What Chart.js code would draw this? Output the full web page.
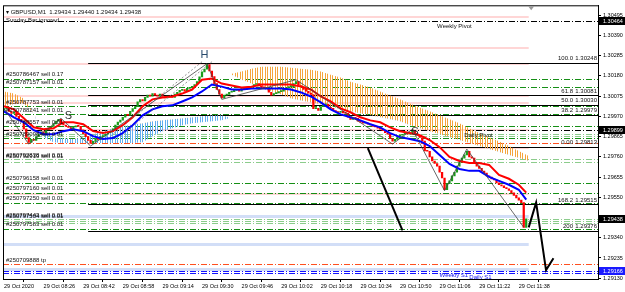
<!DOCTYPE html>
<html>
<head>
<meta charset="utf-8">
<script src="https://cdn.jsdelivr.net/npm/chart.js@4.4.0/dist/chart.umd.min.js"></script>
<style>
  html, body { margin: 0; padding: 0; background: #fff; }
  canvas { display: block; }
</style>
</head>
<body>
<canvas id="chart" width="625" height="292"></canvas>
<script>
// GBPUSD M1, 29 Oct 2020, one close per minute bar from 08:10
const tickBars = [0, 16, 32, 48, 64, 80, 96, 112, 128, 144, 160, 176, 192, 208];
const timeLabels = ['29 Oct 2020', '29 Oct 08:26', '29 Oct 08:42', '29 Oct 08:58', '29 Oct 09:14', '29 Oct 09:30',
  '29 Oct 09:46', '29 Oct 10:02', '29 Oct 10:18', '29 Oct 10:34', '29 Oct 10:50', '29 Oct 11:06', '29 Oct 11:22', '29 Oct 11:38'];
const priceTicks = [1.30495, 1.30390, 1.30285, 1.30180, 1.30075, 1.29970, 1.29865, 1.29760,
  1.29655, 1.29550, 1.29445, 1.29340, 1.29235, 1.29130];

const firstOpen = 1.30000;
const closes = [
  1.30010,1.30015,1.29995,1.29985,1.29990,1.29970,1.29955,1.29944,1.29905,1.29860,
  1.29835,1.29850,1.29845,1.29865,1.29875,1.29890,1.29880,1.29900,1.29910,1.29918,
  1.29930,1.29945,1.29955,1.29935,1.29925,1.29918,1.29912,1.29905,1.29915,1.29920,
  1.29918,1.29900,1.29880,1.29865,1.29845,1.29830,1.29840,1.29855,1.29850,1.29865,
  1.29870,1.29877,1.29885,1.29892,1.29905,1.29925,1.29940,1.29950,1.29965,1.29980,
  1.29975,1.29996,1.30010,1.30021,1.30045,1.30057,1.30050,1.30068,1.30080,1.30075,
  1.30088,1.30080,1.30075,1.30085,1.30073,1.30065,1.30075,1.30070,1.30068,1.30085,
  1.30095,1.30105,1.30109,1.30100,1.30115,1.30120,1.30124,1.30135,1.30150,1.30175,
  1.30201,1.30215,1.30238,1.30205,1.30176,1.30140,1.30109,1.30085,1.30065,1.30080,
  1.30083,1.30095,1.30098,1.30105,1.30109,1.30100,1.30119,1.30110,1.30114,1.30120,
  1.30125,1.30135,1.30140,1.30128,1.30120,1.30118,1.30114,1.30095,1.30080,1.30088,
  1.30092,1.30098,1.30100,1.30110,1.30118,1.30124,1.30124,1.30140,1.30150,1.30130,
  1.30124,1.30110,1.30100,1.30090,1.30083,1.30010,1.30011,1.30000,1.30021,1.30030,
  1.30032,1.30015,1.30011,1.30000,1.29995,1.29990,1.29996,1.29988,1.29985,1.29965,
  1.29954,1.29960,1.29959,1.29945,1.29940,1.29934,1.29935,1.29929,1.29925,1.29918,
  1.29915,1.29908,1.29903,1.29895,1.29885,1.29877,1.29855,1.29841,1.29850,1.29867,
  1.29872,1.29877,1.29880,1.29877,1.29885,1.29892,1.29880,1.29872,1.29860,1.29841,
  1.29790,1.29789,1.29760,1.29738,1.29725,1.29712,1.29680,1.29650,1.29590,1.29620,
  1.29635,1.29661,1.29680,1.29712,1.29730,1.29753,1.29770,1.29789,1.29760,1.29753,
  1.29725,1.29712,1.29700,1.29686,1.29675,1.29661,1.29655,1.29645,1.29640,1.29625,
  1.29615,1.29609,1.29600,1.29594,1.29585,1.29573,1.29560,1.29547,1.29535,1.29522,
  1.29393,1.29438
];

// moving averages, read every 4th bar
const maBars = [0,4,8,12,16,20,24,28,32,36,40,44,48,52,56,60,64,68,72,76,80,84,88,92,96,100,
  104,108,112,116,120,124,128,132,136,140,144,148,152,156,160,164,168,172,176,180,184,188,192,196,200,204,208,211];
const redMA = [1.30022,1.30006,1.29960,1.29913,1.29903,1.29908,1.29939,1.29939,1.29929,1.29893,1.29883,1.29893,
  1.29924,1.29965,1.30022,1.30058,1.30068,1.30073,1.30088,1.30109,1.30160,1.30166,1.30140,1.30130,1.30119,1.30124,
  1.30135,1.30135,1.30135,1.30135,1.30124,1.30109,1.30073,1.30047,1.30011,1.29991,1.29965,1.29949,1.29939,1.29913,
  1.29893,1.29883,1.29872,1.29847,1.29810,1.29759,1.29738,1.29728,1.29728,1.29718,1.29666,1.29646,1.29615,1.29574];
const blueMA = [1.29996,1.29965,1.29939,1.29898,1.29877,1.29877,1.29893,1.29903,1.29893,1.29867,1.29852,1.29857,
  1.29883,1.29924,1.29975,1.30006,1.30022,1.30027,1.30047,1.30068,1.30099,1.30135,1.30124,1.30109,1.30109,1.30114,
  1.30114,1.30114,1.30114,1.30109,1.30094,1.30073,1.30042,1.30006,1.29980,1.29965,1.29949,1.29929,1.29913,1.29883,
  1.29862,1.29852,1.29841,1.29816,1.29769,1.29723,1.29697,1.29687,1.29687,1.29656,1.29635,1.29615,1.29589,1.29538];

// cloud spans
const cloudBars = [0,4,8,12,16,20,24,28,32,36,40,44,48,52,56,60,64,68,72,76,80,84,88,91,92,96,100,104,108,112,
  116,120,124,128,132,136,140,144,148,152,156,160,164,168,172,176,180,184,188,192,196,200,204,208,212];
const spanA = [1.30099,1.30088,1.30063,1.29985,1.29862,1.29836,1.29831,1.29831,1.29831,1.29831,1.29831,1.29831,
  1.29831,1.29831,1.29836,1.29867,1.29893,1.29908,1.29924,1.29934,1.29939,1.29944,1.29949,1.29960,1.30191,1.30202,
  1.30217,1.30227,1.30227,1.30227,1.30222,1.30217,1.30212,1.30202,1.30186,1.30171,1.30150,1.30135,1.30119,1.30099,
  1.30078,1.30058,1.30037,1.30016,1.29996,1.29975,1.29955,1.29934,1.29908,1.29883,1.29862,1.29841,1.29816,1.29790,1.29764];
const spanB = [1.30022,1.30032,1.30037,1.29985,1.29883,1.29862,1.29857,1.29852,1.29862,1.29877,1.29893,1.29908,
  1.29919,1.29929,1.29934,1.29944,1.29949,1.29955,1.29960,1.29965,1.29970,1.29975,1.29975,1.29965,1.30186,1.30160,
  1.30140,1.30114,1.30099,1.30083,1.30063,1.30052,1.30042,1.30032,1.30022,1.30006,1.29996,1.29985,1.29975,1.29965,
  1.29955,1.29944,1.29924,1.29908,1.29893,1.29877,1.29862,1.29847,1.29831,1.29816,1.29800,1.29785,1.29769,1.29754,1.29738];

// zigzag swings and drawn lines
const zzBars = [0, 10, 23, 35, 82, 88, 118, 157, 165, 178, 187, 210];
const zzPrices = [1.30011, 1.29826, 1.29960, 1.29816, 1.30243, 1.30058, 1.30160, 1.29826, 1.29903, 1.29584, 1.29800, 1.29394];
const chanBars1 = [43, 80], chanPrices1 = [1.29867, 1.30253];
const chanBars2 = [47, 84], chanPrices2 = [1.29867, 1.30253];
const arrow1Bars = [147, 161], arrow1Prices = [1.29805, 1.29378];
const arrow2Bars = [212, 215, 219, 222], arrow2Prices = [1.29394, 1.29522, 1.29172, 1.29234];

// horizontal levels
const pivotLevels = [1.30464, 1.29899];
const pivotNames = ['Weekly Pivot', 'Daily Pivot'];
const pivotTextBars = [175, 186];
const s1Levels = [1.29166, 1.29157];
const s1Names = ['Weekly S1', 'Daily S1'];
const s1TextBars = [176, 188];
const fibStartBar = 34;
const fibLevels = [1.30248, 1.30081, 1.30030, 1.29979, 1.29813, 1.29515, 1.29376];
const fibNames = ['100.0', '61.8', '50.0', '38.2', '0.00', '168.2', '200'];
const orderLevels = [1.30166, 1.30124, 1.30022, 1.29980, 1.29919, 1.29857, 1.29625, 1.29574, 1.29522, 1.29388];
const groupLevels = [1.29877, 1.29867, 1.29749, 1.29733, 1.29438, 1.29429, 1.29419];
const tpLevels = [1.29831, 1.29203];
const resistZones = [1.30485, 1.30325, 1.30243, 1.30073, 1.30037, 1.29898, 1.29805, 1.29569];
const supportZones = [1.29455, 1.29306, 1.29177];
const orderTexts = ['#250786467 sell 0.17', '#250787157 sell 0.01', '#250787753 sell 0.01', '#250788241 sell 0.01',
  '#250788557 sell 0.01', '#250789098 sell 0.01', '#250792838 sell 0.01', '#250792919 sell 0.01', '#250796158 sell 0.01',
  '#250797160 sell 0.01', '#250797250 sell 0.01', '#250797443 sell 0.01', '#250797504 sell 0.01', '#250797583 sell 0.01',
  '#250709888 tp'];
const orderTextPrices = [1.30166, 1.30124, 1.30022, 1.29980, 1.29919, 1.29857, 1.29749, 1.29741, 1.29625,
  1.29574, 1.29522, 1.29438, 1.29429, 1.29388, 1.29203];
const markTexts = ['H', 'S', 'S'];
const markBars = [81, 26, 166];
const markPrices = [1.30289, 1.29970, 1.29888];
const boxPrices = [1.30464, 1.29899, 1.29438];
const bluePrice = 1.29166;
const quote = 'GBPUSD,M1  1.29434 1.29440 1.29434 1.29438';

const FONT = '"Liberation Sans", Arial, sans-serif';
const DASHDOT = [6, 2, 1, 2];

const opens = [firstOpen].concat(closes.slice(0, -1));
const candleData = closes.map((c, i) => ({ x: i, y: [opens[i], c] }));
const candleColors = closes.map((c, i) => c >= opens[i] ? '#1a9c1a' : '#ff0000');
const pts = (bars, vals) => bars.map((b, i) => ({ x: b, y: vals[i] }));

function hatch(color) {
  const c = document.createElement('canvas');
  c.width = 5; c.height = 1;
  const g = c.getContext('2d');
  g.fillStyle = color;
  g.fillRect(0, 0, 1, 1);
  g.fillRect(2, 0, 1, 1);
  return g.createPattern(c, 'repeat');
}

const levelsPlugin = {
  id: 'levels',
  beforeDatasetsDraw(chart) {
    const { ctx, chartArea: a, scales: { x, y } } = chart;
    const zoneEnd = x.getPixelForValue(closes.length);
    ctx.save();
    ctx.beginPath(); ctx.rect(a.left, a.top, a.width, a.height); ctx.clip();
    const draw = (levels, color, width, dash, x0, x1) => levels.forEach(p => {
      const py = Math.round(y.getPixelForValue(p)) + (width % 2 ? 0.5 : 0);
      ctx.strokeStyle = color; ctx.lineWidth = width; ctx.setLineDash(dash);
      ctx.beginPath(); ctx.moveTo(x0, py); ctx.lineTo(x1, py); ctx.stroke();
    });
    draw(resistZones, '#ffd6d6', 2, [], a.left, zoneEnd);
    draw(supportZones, '#d2def7', 3, [], a.left, zoneEnd);
    draw(groupLevels, '#8ccc8c', 1, DASHDOT, a.left, a.right);
    draw(orderLevels, '#168f16', 1, DASHDOT, a.left, a.right);
    draw(tpLevels, '#ff4f1f', 1, DASHDOT, a.left, a.right);
    draw(s1Levels, '#1414ff', 1, DASHDOT, a.left, a.right);
    draw(pivotLevels, '#000', 1, DASHDOT, a.left, a.right);
    draw(fibLevels, '#000', 1, [], x.getPixelForValue(fibStartBar), a.right);
    ctx.restore();
  },
  afterDatasetsDraw(chart) {
    const { ctx, chartArea: a, scales: { x, y } } = chart;
    ctx.save();
    ctx.textBaseline = 'bottom';
    ctx.fillStyle = '#111';
    ctx.font = '6px ' + FONT;
    orderTexts.forEach((t, i) => ctx.fillText(t, a.left + 3, y.getPixelForValue(orderTextPrices[i]) - 1));
    fibLevels.forEach((p, i) => {
      const py = y.getPixelForValue(p) - 1;
      ctx.textAlign = 'right';
      ctx.fillText(fibNames[i], a.right - 25, py);
      ctx.fillText(p.toFixed(5), a.right - 1, py);
    });
    ctx.textAlign = 'left';
    ctx.textBaseline = 'top';
    pivotLevels.forEach((p, i) => ctx.fillText(pivotNames[i], x.getPixelForValue(pivotTextBars[i]), y.getPixelForValue(p) + 2));
    ctx.fillStyle = '#1010ee';
    s1Levels.forEach((p, i) => ctx.fillText(s1Names[i], x.getPixelForValue(s1TextBars[i]), y.getPixelForValue(p) + 1));
    ctx.textAlign = 'center';
    ctx.textBaseline = 'middle';
    ctx.font = '11px ' + FONT;
    markTexts.forEach((t, i) => {
      ctx.fillStyle = t === 'H' ? '#27496b' : '#333';
      ctx.fillText(t, x.getPixelForValue(markBars[i]), y.getPixelForValue(markPrices[i]));
    });
    ctx.textAlign = 'left';
    ctx.fillStyle = '#111';
    ctx.font = '6px ' + FONT;
    ctx.fillText('\u25BE ' + quote, a.left + 3, a.top + 7);
    ctx.fillText('Sunday Bar ignored', a.left + 3, a.top + 15);
    ctx.restore();
  },
  afterDraw(chart) {
    const { ctx, chartArea: a, scales: { x, y } } = chart;
    ctx.save();
    ctx.strokeStyle = '#000'; ctx.lineWidth = 1;
    ctx.strokeRect(a.left + 0.5, a.top + 0.5, a.width, a.height);
    // shift marker at the last bar
    const sx = x.getPixelForValue(closes.length + 1);
    ctx.fillStyle = '#9a9a9a';
    ctx.beginPath(); ctx.moveTo(sx - 3, a.top + 1); ctx.lineTo(sx + 3, a.top + 1); ctx.lineTo(sx, a.top + 5); ctx.fill();
    ctx.font = '5.5px ' + FONT;
    ctx.textBaseline = 'middle';
    const box = (p, bg) => {
      const py = Math.round(y.getPixelForValue(p));
      ctx.fillStyle = bg; ctx.fillRect(a.right + 1, py - 4, 40, 8);
      ctx.fillStyle = '#fff'; ctx.fillText(p.toFixed(5), a.right + 5, py);
    };
    boxPrices.forEach(p => box(p, '#000'));
    box(bluePrice, '#1a1aff');
    ctx.restore();
  }
};

new Chart(document.getElementById('chart'), {
  type: 'bar',
  data: {
    datasets: [
      { type: 'line', data: pts(arrow2Bars, arrow2Prices), borderColor: '#000', borderWidth: 2, pointRadius: 0, order: 0 },
      { type: 'line', data: pts(arrow1Bars, arrow1Prices), borderColor: '#000', borderWidth: 2, pointRadius: 0, order: 0 },
      { type: 'line', data: pts(zzBars, zzPrices), borderColor: '#444', borderWidth: 0.8, pointRadius: 0, order: 1 },
      { type: 'line', data: pts(chanBars1, chanPrices1), borderColor: '#777', borderWidth: 0.8, borderDash: [2, 2], pointRadius: 0, order: 1 },
      { type: 'line', data: pts(chanBars2, chanPrices2), borderColor: '#777', borderWidth: 0.8, borderDash: [2, 2], pointRadius: 0, order: 1 },
      { type: 'line', data: pts(maBars, redMA), borderColor: '#ff0000', borderWidth: 2, pointRadius: 0, order: 2 },
      { type: 'line', data: pts(maBars, blueMA), borderColor: '#0000ff', borderWidth: 2, pointRadius: 0, order: 3 },
      { data: candleData, backgroundColor: candleColors, barThickness: 1.6, minBarLength: 1, grouped: false, order: 5 },
      { type: 'line', data: pts(cloudBars, spanA), borderWidth: 0, pointRadius: 0, order: 10,
        fill: { target: '+1', above: hatch('#f5a43c'), below: hatch('#62aef0') } },
      { type: 'line', data: pts(cloudBars, spanB), borderWidth: 0, pointRadius: 0, order: 11, fill: false }
    ]
  },
  options: {
    responsive: false,
    animation: false,
    events: [],
    layout: { padding: { left: 3, top: 3, right: 0, bottom: 0 } },
    plugins: { legend: { display: false }, tooltip: { enabled: false } },
    scales: {
      x: {
        type: 'linear', min: -0.4, max: 240, offset: false,
        grid: { drawOnChartArea: false, tickLength: 3, color: '#000' },
        border: { color: '#000' },
        afterBuildTicks: s => { s.ticks = tickBars.map(v => ({ value: v })); },
        afterFit: s => { s.height = 13; },
        ticks: {
          autoSkip: false, maxRotation: 0, align: 'start', padding: 1, color: '#000',
          font: { size: 5.5, family: FONT },
          callback: v => timeLabels[tickBars.indexOf(v)]
        }
      },
      y: {
        position: 'right', min: 1.29126, max: 1.30546,
        grid: { drawOnChartArea: false, tickLength: 3, color: '#000' },
        border: { color: '#000' },
        afterBuildTicks: s => { s.ticks = priceTicks.map(v => ({ value: v })); },
        afterFit: s => { s.width = 27; },
        ticks: {
          autoSkip: false, padding: 2, color: '#000',
          font: { size: 5.5, family: FONT },
          callback: v => v.toFixed(5)
        }
      }
    }
  },
  plugins: [levelsPlugin]
});
</script>
</body>
</html>
